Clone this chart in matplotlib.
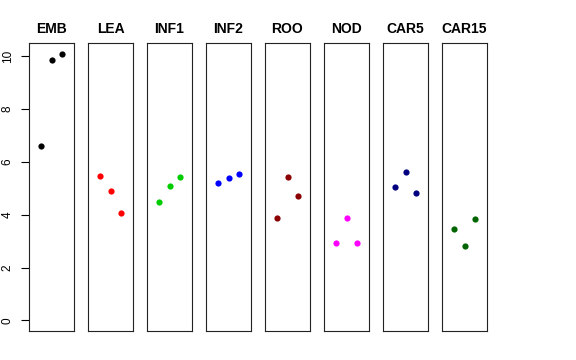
import matplotlib
matplotlib.use("Agg")
import matplotlib.pyplot as plt

plt.rcParams['font.family'] = ['Liberation Sans', 'DejaVu Sans']

groups = ['EMB', 'LEA', 'INF1', 'INF2', 'ROO', 'NOD', 'CAR5', 'CAR15']
colors = ['black', 'red', '#00CD00', 'blue', '#8B0000', 'magenta', '#000080', '#006400']
xpos = [1, 2, 3]
values = [
    [6.60, 9.85, 10.10],
    [5.47, 4.90, 4.08],
    [4.47, 5.09, 5.43],
    [5.21, 5.38, 5.53],
    [3.87, 5.43, 4.72],
    [2.94, 3.86, 2.93],
    [5.06, 5.63, 4.83],
    [3.45, 2.83, 3.85],
]
yticks = [0, 2, 4, 6, 8, 10]

W, H = 576, 360
fig = plt.figure(figsize=(W / 100, H / 100), dpi=100)

ymin, ymax = 0, 10.1
yr = ymax - ymin
for i, (g, c, v) in enumerate(zip(groups, colors, values)):
    left = 29 + 59 * i
    ax = fig.add_axes([left / W, (H - 331) / H, 45 / W, 288 / H])
    ax.scatter(xpos, v, s=20, color=c, zorder=3, linewidths=0)
    ax.set_xlim(0 - 0.16, 4 + 0.16)
    ax.set_ylim(ymin - 0.04 * yr, ymax + 0.04 * yr)
    ax.set_xticks([])
    ax.set_title(g, fontsize=10, fontweight='bold', pad=7)
    for s in ax.spines.values():
        s.set_linewidth(0.8)
        s.set_color('#222222')
    if i == 0:
        ax.set_yticks(yticks)
        ax.set_yticklabels([str(t) for t in yticks], rotation=90, va='center', fontsize=8.5)
        ax.tick_params(axis='y', length=6, width=0.8, pad=5)
    else:
        ax.set_yticks([])

fig.savefig('out.png', dpi=100)
